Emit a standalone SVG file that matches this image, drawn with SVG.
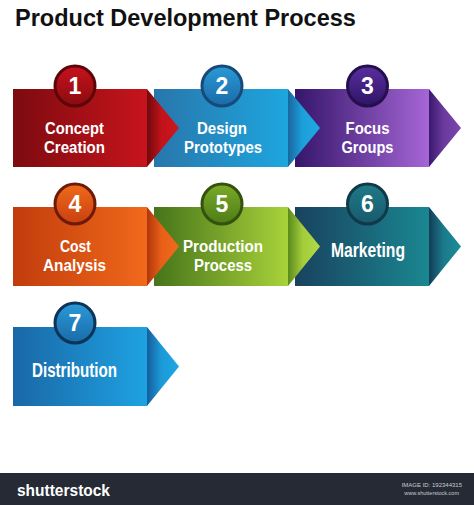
<svg xmlns="http://www.w3.org/2000/svg" width="474" height="505" viewBox="0 0 474 505">
<defs>
<style>
.title{font-family:"Liberation Sans",Arial,sans-serif;font-weight:bold;font-size:23.5px;fill:#111}
.lbl{font-family:"Liberation Sans",Arial,sans-serif;font-weight:bold;font-size:17.4px;fill:#fff;text-anchor:middle}
.lbl1{font-family:"Liberation Sans",Arial,sans-serif;font-weight:bold;font-size:19.5px;fill:#fff;text-anchor:middle}
.num{font-family:"Liberation Sans",Arial,sans-serif;font-weight:bold;font-size:23px;fill:#fff;text-anchor:middle}
.ring{stroke-width:3}
.foot{font-family:"Liberation Sans",Arial,sans-serif;fill:#c9ccd2}
</style>
<linearGradient id="r1" x1="0" y1="0" x2="1" y2="0"><stop offset="0" stop-color="#7c0b10"/><stop offset="1" stop-color="#c8141c"/></linearGradient>
<linearGradient id="t1" x1="0" y1="0" x2="1" y2="0"><stop offset="0" stop-color="#6e0a0e"/><stop offset="0.45" stop-color="#c2121a"/><stop offset="1" stop-color="#d0151e"/></linearGradient>
<linearGradient id="c1" x1="0" y1="0" x2="0" y2="1"><stop offset="0" stop-color="#c8121c"/><stop offset="1" stop-color="#8a0b10"/></linearGradient>
<linearGradient id="r2" x1="0" y1="0" x2="1" y2="0"><stop offset="0" stop-color="#2876ab"/><stop offset="1" stop-color="#1ea6df"/></linearGradient>
<linearGradient id="t2" x1="0" y1="0" x2="1" y2="0"><stop offset="0" stop-color="#1a66a0"/><stop offset="0.45" stop-color="#1c9fda"/><stop offset="1" stop-color="#1eaae3"/></linearGradient>
<linearGradient id="c2" x1="0" y1="0" x2="0" y2="1"><stop offset="0" stop-color="#2a9ad6"/><stop offset="1" stop-color="#1a6aa8"/></linearGradient>
<linearGradient id="r3" x1="0" y1="0" x2="1" y2="0"><stop offset="0" stop-color="#35166a"/><stop offset="1" stop-color="#a566d6"/></linearGradient>
<linearGradient id="t3" x1="0" y1="0" x2="1" y2="0"><stop offset="0" stop-color="#3a186c"/><stop offset="0.45" stop-color="#6a3a9e"/><stop offset="1" stop-color="#7c45ae"/></linearGradient>
<linearGradient id="c3" x1="0" y1="0" x2="0" y2="1"><stop offset="0" stop-color="#5a2e9e"/><stop offset="1" stop-color="#2e1466"/></linearGradient>
<linearGradient id="r4" x1="0" y1="0" x2="1" y2="0"><stop offset="0" stop-color="#c13c0c"/><stop offset="1" stop-color="#f0691c"/></linearGradient>
<linearGradient id="t4" x1="0" y1="0" x2="1" y2="0"><stop offset="0" stop-color="#b0360a"/><stop offset="0.45" stop-color="#e86018"/><stop offset="1" stop-color="#f06a1c"/></linearGradient>
<linearGradient id="c4" x1="0" y1="0" x2="0" y2="1"><stop offset="0" stop-color="#f06a1a"/><stop offset="1" stop-color="#c84010"/></linearGradient>
<linearGradient id="r5" x1="0" y1="0" x2="1" y2="0"><stop offset="0" stop-color="#46741a"/><stop offset="1" stop-color="#a9d23a"/></linearGradient>
<linearGradient id="t5" x1="0" y1="0" x2="1" y2="0"><stop offset="0" stop-color="#5a8a1c"/><stop offset="0.45" stop-color="#a2cc3a"/><stop offset="1" stop-color="#b2da48"/></linearGradient>
<linearGradient id="c5" x1="0" y1="0" x2="0" y2="1"><stop offset="0" stop-color="#7aaa28"/><stop offset="1" stop-color="#4e7c18"/></linearGradient>
<linearGradient id="r6" x1="0" y1="0" x2="1" y2="0"><stop offset="0" stop-color="#19425f"/><stop offset="1" stop-color="#1a8791"/></linearGradient>
<linearGradient id="t6" x1="0" y1="0" x2="1" y2="0"><stop offset="0" stop-color="#143c58"/><stop offset="0.45" stop-color="#1a7a8c"/><stop offset="1" stop-color="#1c8c98"/></linearGradient>
<linearGradient id="c6" x1="0" y1="0" x2="0" y2="1"><stop offset="0" stop-color="#1f7a86"/><stop offset="1" stop-color="#175a6e"/></linearGradient>
<linearGradient id="r7" x1="0" y1="0" x2="1" y2="0"><stop offset="0" stop-color="#1a67a6"/><stop offset="1" stop-color="#1ea2e2"/></linearGradient>
<linearGradient id="t7" x1="0" y1="0" x2="1" y2="0"><stop offset="0" stop-color="#165e9c"/><stop offset="0.45" stop-color="#1c9ad8"/><stop offset="1" stop-color="#1ea6e4"/></linearGradient>
<linearGradient id="c7" x1="0" y1="0" x2="0" y2="1"><stop offset="0" stop-color="#2a9ad8"/><stop offset="1" stop-color="#1a6aa8"/></linearGradient>
</defs>
<rect width="474" height="505" fill="#fff"/>
<text class="title" x="15" y="26">Product Development Process</text>

<g id="connectors"/>

<g id="node3">
<rect x="295" y="89" width="134" height="78" fill="url(#r3)"/>
<polygon points="429,89 461,128 429,167" fill="url(#t3)"/>
<circle cx="367.5" cy="86" r="20" fill="url(#c3)" stroke="#24104e" class="ring"/>
<text class="num" x="367.5" y="94">3</text>
<text class="lbl" x="367.5" y="133.5" textLength="44" lengthAdjust="spacingAndGlyphs">Focus</text>
<text class="lbl" x="367.5" y="153" textLength="52" lengthAdjust="spacingAndGlyphs">Groups</text>
</g>
<g id="node2">
<rect x="154" y="89" width="134" height="78" fill="url(#r2)"/>
<polygon points="288,89 320,128 288,167" fill="url(#t2)"/>
<circle cx="222" cy="86" r="20" fill="url(#c2)" stroke="#174a7a" class="ring"/>
<text class="num" x="222" y="94">2</text>
<text class="lbl" x="222" y="133.5" textLength="50" lengthAdjust="spacingAndGlyphs">Design</text>
<text class="lbl" x="223" y="153" textLength="78" lengthAdjust="spacingAndGlyphs">Prototypes</text>
</g>
<g id="node1">
<rect x="13" y="89" width="134" height="78" fill="url(#r1)"/>
<polygon points="147,89 179,128 147,167" fill="url(#t1)"/>
<circle cx="75" cy="86" r="20" fill="url(#c1)" stroke="#5c0609" class="ring"/>
<text class="num" x="75" y="94">1</text>
<text class="lbl" x="74.5" y="133.5" textLength="59" lengthAdjust="spacingAndGlyphs">Concept</text>
<text class="lbl" x="74.5" y="153" textLength="61" lengthAdjust="spacingAndGlyphs">Creation</text>
</g>

<g id="node6">
<rect x="295" y="207" width="134" height="79" fill="url(#r6)"/>
<polygon points="429,207 461,246.5 429,286" fill="url(#t6)"/>
<circle cx="367.5" cy="204" r="20" fill="url(#c6)" stroke="#10394a" class="ring"/>
<text class="num" x="367.5" y="212">6</text>
<text class="lbl1" x="368" y="257" textLength="74" lengthAdjust="spacingAndGlyphs">Marketing</text>
</g>
<g id="node5">
<rect x="154" y="207" width="134" height="79" fill="url(#r5)"/>
<polygon points="288,207 320,246.5 288,286" fill="url(#t5)"/>
<circle cx="222" cy="204" r="20" fill="url(#c5)" stroke="#34520e" class="ring"/>
<text class="num" x="222" y="212">5</text>
<text class="lbl" x="223" y="251.5" textLength="80" lengthAdjust="spacingAndGlyphs">Production</text>
<text class="lbl" x="223" y="271" textLength="58" lengthAdjust="spacingAndGlyphs">Process</text>
</g>
<g id="node4">
<rect x="13" y="207" width="134" height="79" fill="url(#r4)"/>
<polygon points="147,207 179,246.5 147,286" fill="url(#t4)"/>
<circle cx="75" cy="204" r="20" fill="url(#c4)" stroke="#6e1a08" class="ring"/>
<text class="num" x="75" y="212">4</text>
<text class="lbl" x="75.5" y="251.5" textLength="31" lengthAdjust="spacingAndGlyphs">Cost</text>
<text class="lbl" x="74.5" y="271" textLength="63" lengthAdjust="spacingAndGlyphs">Analysis</text>
</g>

<g id="node7">
<rect x="13" y="327" width="134" height="79" fill="url(#r7)"/>
<polygon points="147,327 179,366.5 147,406" fill="url(#t7)"/>
<circle cx="75" cy="323" r="20" fill="url(#c7)" stroke="#0c3358" class="ring"/>
<text class="num" x="75" y="331">7</text>
<text class="lbl1" x="74.5" y="377" textLength="85" lengthAdjust="spacingAndGlyphs">Distribution</text>
</g>

<g id="footer">
<rect x="0" y="473" width="474" height="32" fill="#252a34"/>
<text x="17" y="496" font-family="'Liberation Sans',Arial,sans-serif" font-weight="bold" font-size="16" fill="#ffffff" textLength="93" lengthAdjust="spacingAndGlyphs">shutterstock</text>
<text class="foot" x="462" y="487" font-size="6" text-anchor="end">IMAGE ID: 192344315</text>
<text class="foot" x="459" y="495" font-size="5.5" text-anchor="end">www.shutterstock.com</text>
</g>
</svg>
